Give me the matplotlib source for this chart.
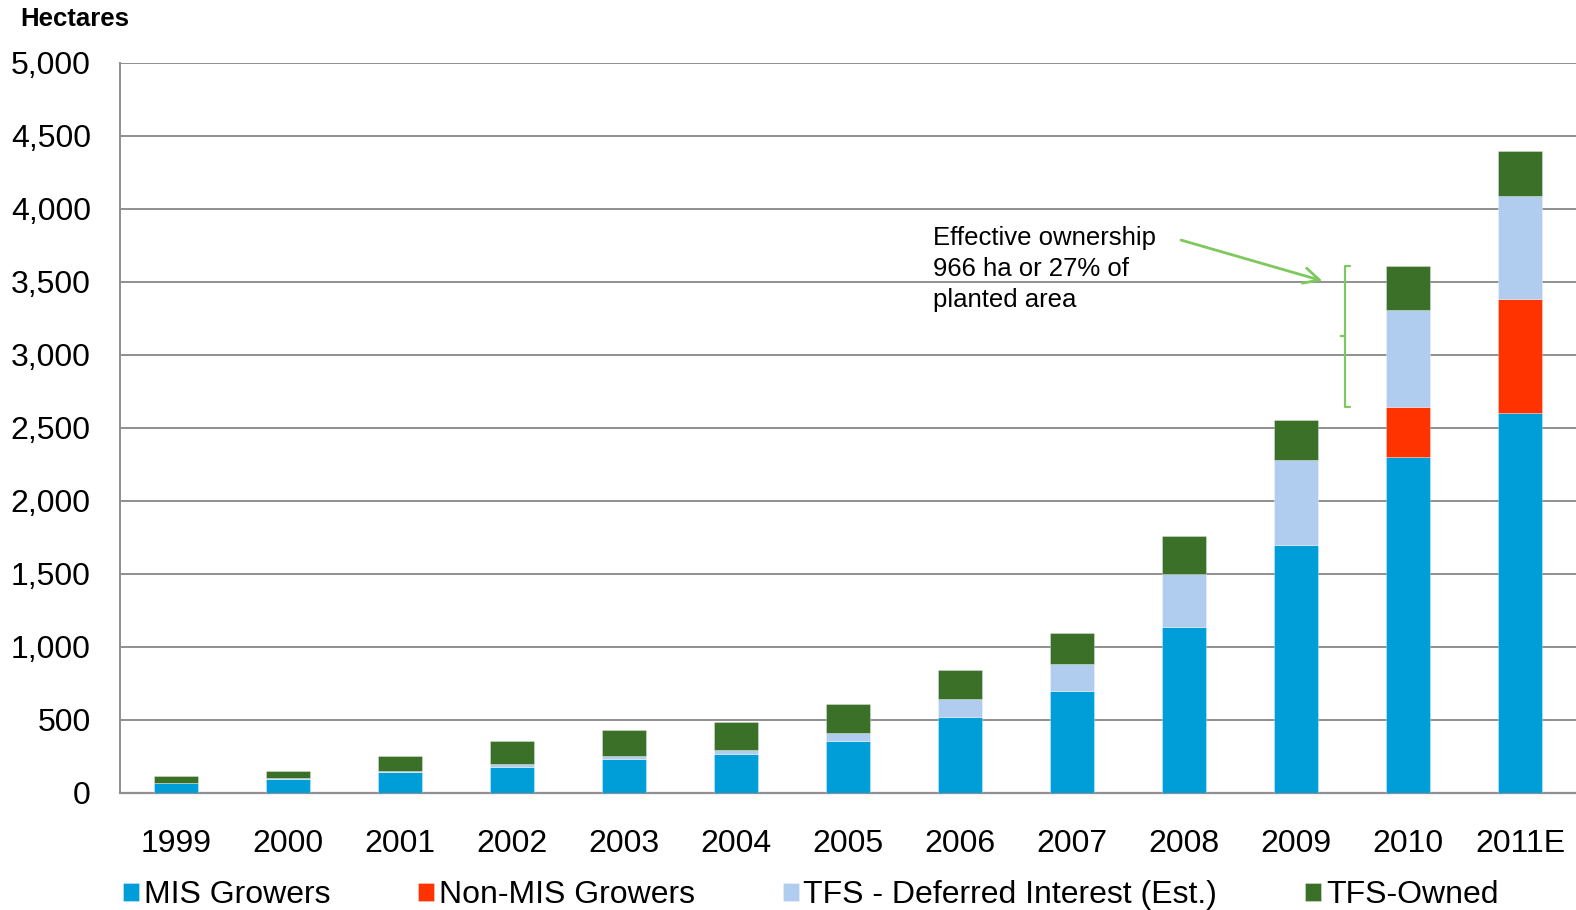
import matplotlib
matplotlib.use("Agg")
import matplotlib.pyplot as plt
import numpy as np

years = ["1999", "2000", "2001", "2002", "2003", "2004", "2005", "2006",
         "2007", "2008", "2009", "2010", "2011E"]
mis_growers = [63, 95, 138, 177, 232, 266, 351, 517, 693, 1136, 1695, 2296, 2599]
non_mis_growers = [0, 0, 0, 0, 0, 0, 0, 0, 0, 0, 0, 346, 781]
tfs_deferred = [2, 3, 9, 16, 16, 23, 57, 123, 189, 363, 582, 663, 706]
tfs_owned = [48, 50, 103, 157, 178, 194, 200, 201, 208, 256, 272, 303, 306]
series_names = ["MIS Growers", "Non-MIS Growers", "TFS - Deferred Interest (Est.)", "TFS-Owned"]
colors = ["#009ED8", "#FF3300", "#B0CDF0", "#3A7027"]
y_ticks = [0, 500, 1000, 1500, 2000, 2500, 3000, 3500, 4000, 4500, 5000]

plt.rcParams['font.family'] = ['Liberation Sans', 'DejaVu Sans']

fig = plt.figure(figsize=(15.76, 9.10), dpi=100)
ax = fig.add_axes([120/1576, 1 - 792.5/910, 1 - 120/1576, (792.5 - 62.7)/910])

x = np.arange(len(years))
bottom = np.zeros(len(years))
handles = []
for vals, name, col in zip([mis_growers, non_mis_growers, tfs_deferred, tfs_owned], series_names, colors):
    vals = np.array(vals, dtype=float)
    b = ax.bar(x, vals, width=0.40, bottom=bottom, color=col, edgecolor=(1, 1, 1, 0.35),
               linewidth=0.6, label=name, zorder=3)
    handles.append(b)
    bottom += vals

ax.set_xlim(-0.5, len(years) - 0.5)
ax.set_ylim(0, 5000)
ax.set_yticks(y_ticks)
ax.set_yticklabels([f"{v:,}" for v in y_ticks], fontsize=23)
ax.set_xticks(x)
ax.set_xticklabels(years, fontsize=23)
ax.tick_params(axis='y', length=0, pad=21)
ax.tick_params(axis='x', length=0, pad=26)
ax.yaxis.grid(True, color='#8f8f8f', linewidth=1.4, zorder=0)
ax.set_axisbelow(True)
for s in ['top', 'right']:
    ax.spines[s].set_visible(False)
ax.spines['left'].set_color('#8f8f8f')
ax.spines['left'].set_linewidth(1.4)
ax.spines['bottom'].set_color('#8f8f8f')
ax.spines['bottom'].set_linewidth(1.6)

fig.text(20/1576, 1 - 19/910, "Hectares", fontsize=18.5, fontweight='bold', va='center', ha='left')

# annotation
green = '#7DC95E'
ax.text(6.76, 3880, "Effective ownership\n966 ha or 27% of\nplanted area", fontsize=18.5,
        va='top', ha='left', linespacing=1.36)
ax.annotate("", xy=(10.26, 3500), xytext=(8.95, 3790),
            arrowprops=dict(arrowstyle='->', color=green, lw=2, mutation_scale=28))
bx = 10.44
top_v = 3608
bot_v = 2642
ax.plot([bx + 0.04, bx, bx, bx + 0.04], [top_v, top_v, bot_v, bot_v], color=green, lw=1.6,
        solid_capstyle='round', zorder=4)
mid = (top_v + bot_v) / 2
ax.plot([bx, bx - 0.04], [mid, mid], color=green, lw=1.6, zorder=4)

fig.legend(handles=handles, labels=series_names, loc='center left',
           bbox_to_anchor=(123/1576, 1 - 895/910), ncol=4, frameon=False, fontsize=23,
           handlelength=0.5, handleheight=0.5, handletextpad=0.15, columnspacing=2.75,
           borderpad=0, borderaxespad=0)

fig.savefig("out.png", dpi=100)
